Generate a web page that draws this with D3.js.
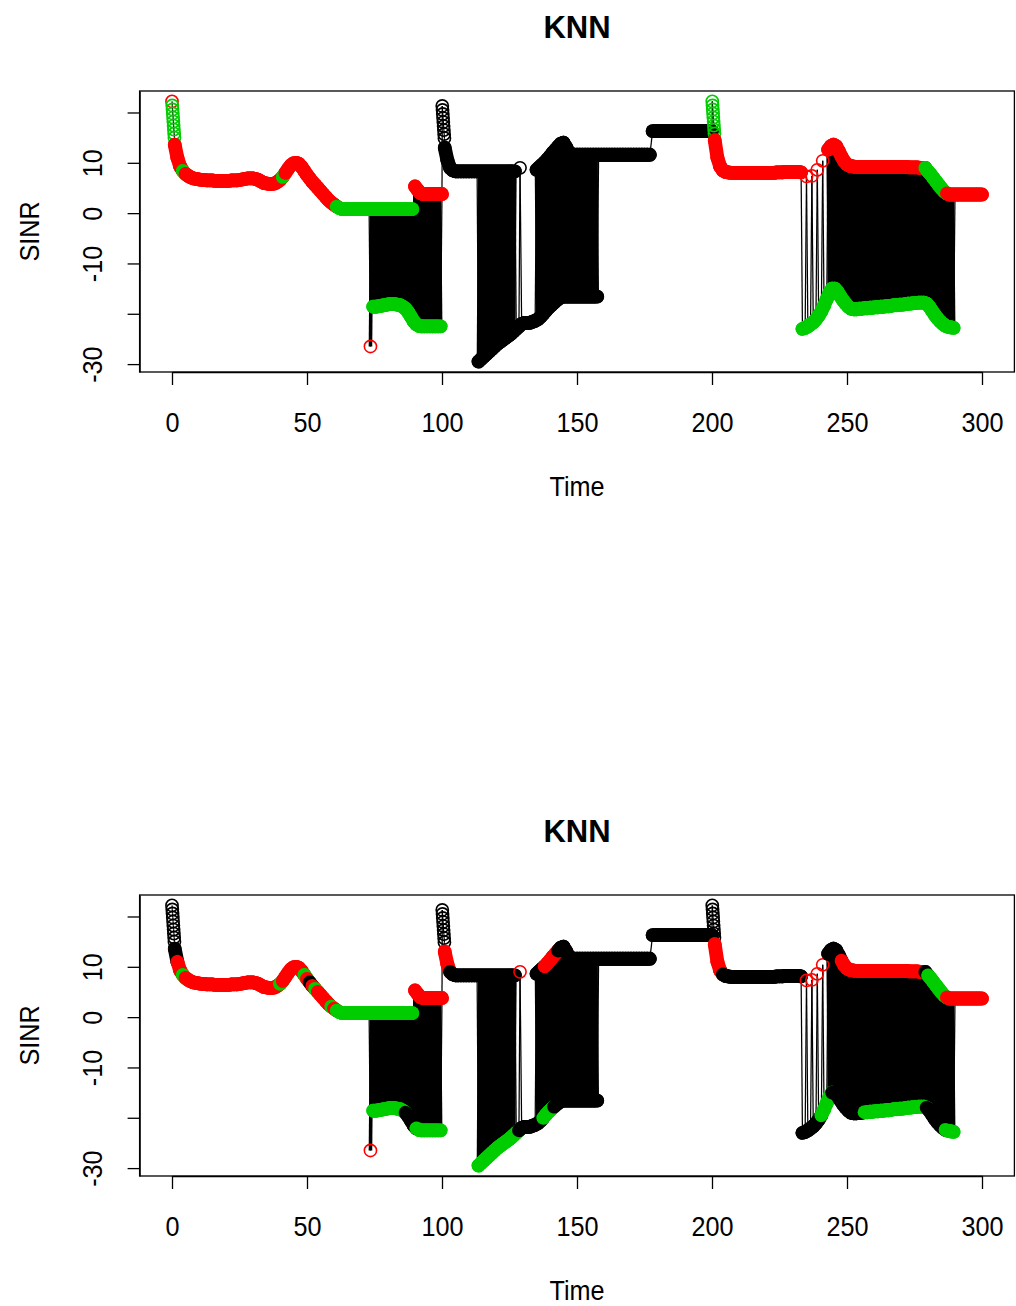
<!DOCTYPE html>
<html><head><meta charset="utf-8">
<script src="https://cdn.jsdelivr.net/npm/d3@7"></script>
<style>
body{margin:0;background:#fff}
svg{display:block}
text{font-family:"Liberation Sans",Arial,Helvetica,sans-serif;fill:#000}
</style>
</head><body>
<svg id="chart" width="1016" height="1306"></svg>
<script>
// ---------------- data ----------------
const chartTitle = "KNN";
const xLabel = "Time";
const yLabel = "SINR";
const xTicks = [0, 50, 100, 150, 200, 250, 300];
const yTicks = [-30, -20, -10, 0, 10, 20];
const yTickLabels = ["-30", "", "-10", "0", "10", ""];

// upper (serving) trace : [time, SINR]
const upperTrace1 = [
  [0,22.2],[0.1,21.4],[0.2,20.6],[0.3,19.8],[0.4,19.0],[0.5,18.2],[0.6,17.4],[0.7,16.6],[0.8,15.8],[0.9,15.0],
  [1,13.6],[2,11.0],[3,9.3],[4,8.4],[5,7.8],[6,7.4],[7,7.1],[8,6.9],[9,6.8],[10,6.7],
  [11,6.6],[12,6.6],[13,6.5],[14,6.5],[15,6.5],[16,6.4],[17,6.4],[18,6.4],[19,6.4],[20,6.4],
  [21,6.4],[22,6.5],[23,6.5],[24,6.5],[25,6.6],[26,6.7],[27,6.8],[28,6.9],[29,6.9],[30,6.9],
  [31,6.8],[32,6.6],[33,6.3],[34,6.0],[35,5.9],[36,5.8],[37,5.8],[38,5.9],[39,6.2],[40,6.6],
  [41,7.2],[42,8.0],[43,8.8],[44,9.5],[45,9.9],[46,10.0],[47,9.8],[48,9.2],[49,8.4],[50,7.6],
  [51,6.9],[52,6.2],[53,5.6],[54,5.0],[55,4.4],[56,3.8],[57,3.2],[58,2.6],[59,2.1],[60,1.7],
  [61,1.3],[62,1.0],[63,0.8],[64,0.8],[65,0.8],[66,0.8],[67,0.8],[68,0.8],[69,0.8],[70,0.8],
  [71,0.8],[72,0.8],[73,0.8],[74,0.8],[75,0.8],[76,0.8],[77,0.8],[78,0.8],[79,0.8],[80,0.8],
  [81,0.8],[82,0.8],[83,0.8],[84,0.8],[85,0.8],[86,0.8],[87,0.8],[88,0.8],[89,0.8],[90,5.3],
  [91,4.6],[92,4.0],[93,3.8],[94,3.8],[95,3.8],[96,3.8],[97,3.8],[98,3.8],[99,3.8],[100,3.8]
];
const upperTrace2 = [
  [100.1,21.3],[100.2,20.5],[100.3,19.7],[100.4,18.9],[100.5,18.1],[100.6,17.3],[100.7,16.5],[100.8,15.7],[100.9,14.9],
  [101,13.0],[102,10.5],[103,9.0],[104,8.5],[105,8.3],[106,8.3],[107,8.3],[108,8.3],[109,8.3],[110,8.3],
  [111,8.3],[112,8.3],[113,8.3],[114,8.3],[115,8.3],[116,8.3],[117,8.3],[118,8.3],[119,8.3],[120,8.3],
  [121,8.3],[122,8.3],[123,8.3],[124,8.3],[125,8.3],[126,8.3],[127,8.3],[128.9,9.0],
  [135,8.6],[136,9.1],[137,9.6],[138,10.1],[139,10.7],[140,11.3],[141,12.0],[142,12.6],[143,13.2],
  [144,13.8],[145,14.0],[146,13.1],[147,12.1],[148,11.7],[149,11.6],[150,11.6],
  [151,11.6],[152,11.6],[153,11.6],[154,11.6],[155,11.6],[156,11.6],[157,11.6],[158,11.6],[159,11.6],[160,11.6],
  [161,11.6],[162,11.6],[163,11.6],[164,11.6],[165,11.6],[166,11.6],[167,11.6],[168,11.6],[169,11.6],[170,11.6],
  [171,11.6],[172,11.6],[173,11.6],[174,11.6],[175,11.6],[176,11.6],[177,11.6],[178,16.3],[179,16.3],[180,16.3],
  [181,16.3],[182,16.3],[183,16.3],[184,16.3],[185,16.3],[186,16.3],[187,16.3],[188,16.3],[189,16.3],[190,16.3],
  [191,16.3],[192,16.3],[193,16.3],[194,16.3],[195,16.3],[196,16.3],[197,16.3],[198,16.3],[199,16.3],[200,16.3]
];
const upperTrace3 = [
  [200.1,22.2],[200.2,21.4],[200.3,20.6],[200.4,19.8],[200.5,19.0],[200.6,18.2],[200.7,17.4],[200.8,16.6],[200.9,15.8],
  [201,14.5],[202,11.0],[203,9.3],[204,8.5],[205,8.2],[206,8.1],[207,8.0],[208,8.0],[209,8.0],[210,8.0],
  [211,8.0],[212,8.0],[213,8.0],[214,8.0],[215,8.0],[216,8.0],[217,8.0],[218,8.0],[219,8.0],[220,8.0],
  [221,8.0],[222,8.0],[223,8.0],[224,8.1],[225,8.1],[226,8.1],[227,8.2],[228,8.2],[229,8.2],[230,8.2],
  [231,8.2],[232,8.2],[233,8.1],[235,7.3],[237,7.4],[239,8.6],[241,10.4],
  [243,12.6],[244,13.3],[245,13.6],[246,13.3],[247,12.3],[248,11.2],[249,10.3],[250,9.7],
  [251,9.4],[252,9.3],[253,9.2],[254,9.2],[255,9.2],[256,9.2],[257,9.2],[258,9.2],[259,9.2],[260,9.2],
  [261,9.2],[262,9.2],[263,9.2],[264,9.2],[265,9.2],[266,9.2],[267,9.2],[268,9.2],[269,9.2],[270,9.2],
  [271,9.2],[272,9.2],[273,9.1],[274,9.1],[275,9.1],[276,9.1],[277,9.0],[278,9.0],[279,9.0],[280,8.3],
  [281,7.7],[282,7.0],[283,6.3],[284,5.6],[285,4.9],[286,4.3],[287,3.9],[288,3.7],[289,3.7],[290,3.7],
  [291,3.7],[292,3.7],[293,3.7],[294,3.7],[295,3.7],[296,3.7],[297,3.7],[298,3.7],[299,3.7],[300,3.7]
];

// lower (ping-pong) trace : [time, SINR]
const lowerTrace1 = [
  [73.5,-26.5],[74.5,-18.6],[75.5,-18.6],[76.5,-18.5],[77.5,-18.4],[78.5,-18.3],[79.5,-18.2],[80.5,-18.1],
  [81.5,-18.1],[82.5,-18.1],[83.5,-18.2],[84.5,-18.3],[85.5,-18.6],[86.5,-19.0],[87.5,-19.7],[88.5,-20.6],
  [89.5,-21.5],[90.5,-22.1],[91.5,-22.4],[92.5,-22.5],[93.5,-22.5],[94.5,-22.5],[95.5,-22.5],[96.5,-22.5],
  [97.5,-22.5],[98.5,-22.5],[99.5,-22.5]
];
const lowerTrace2 = [
  [113.5,-29.5],[114.5,-29.0],[115.5,-28.5],[116.5,-28.0],[117.5,-27.5],[118.5,-27.0],[119.5,-26.5],[120.5,-26.0],
  [121.5,-25.6],[122.5,-25.2],[123.5,-24.8],[124.5,-24.4],[125.5,-24.0],[126.5,-23.5],[127.5,-23.0],[128.5,-22.5],
  [129.5,-22.0],[130.5,-21.8],[131.5,-21.8],[132.5,-21.8],[133.5,-21.6],[134.5,-21.4],[135.5,-21.1],[136.5,-20.6],
  [137.5,-20.0],[138.5,-19.4],[139.5,-18.8],[140.5,-18.3],[141.5,-17.8],[142.5,-17.3],[143.5,-16.9],[144.5,-16.6],
  [145.5,-16.6],[146.5,-16.6],[147.5,-16.6],[148.5,-16.6],[149.5,-16.6],[150.5,-16.6],[151.5,-16.6],[152.5,-16.6],
  [153.5,-16.6],[154.5,-16.6],[155.5,-16.6],[156.5,-16.6],[157.5,-16.6]
];
const lowerTrace3 = [
  [233.5,-23.0],[234.5,-22.8],[235.5,-22.5],[236.5,-22.1],[237.5,-21.7],[238.5,-21.1],[239.5,-20.4],[240.5,-19.5],
  [241.5,-18.4],[242.5,-17.1],[243.5,-15.8],[244.5,-15.0],[245.5,-15.0],[246.5,-15.6],[247.5,-16.5],[248.5,-17.3],
  [249.5,-18.0],[250.5,-18.6],[251.5,-19.0],[252.5,-19.1],[253.5,-19.1],[254.5,-19.0],[255.5,-19.0],[256.5,-18.9],
  [257.5,-18.9],[258.5,-18.8],[259.5,-18.8],[260.5,-18.7],[261.5,-18.7],[262.5,-18.6],[263.5,-18.6],[264.5,-18.5],
  [265.5,-18.5],[266.5,-18.4],[267.5,-18.3],[268.5,-18.3],[269.5,-18.2],[270.5,-18.2],[271.5,-18.1],[272.5,-18.0],
  [273.5,-18.0],[274.5,-17.9],[275.5,-17.9],[276.5,-17.8],[277.5,-17.8],[278.5,-17.8],[279.5,-18.0],[280.5,-18.6],
  [281.5,-19.4],[282.5,-20.2],[283.5,-20.9],[284.5,-21.5],[285.5,-22.0],[286.5,-22.4],[287.5,-22.6],[288.5,-22.7],
  [289.5,-22.8]
];

// point colour classes (R palette index: 1 black, 2 red, 3 green) as [from, to, class]
const panel1UpperClass = [[0,0,2],[0.1,0.9,3],[1,61,2],[5,5,3],[42,42,3],[62,89,3],[90,100,2],
  [100.1,200,1],[200.1,200.9,3],[201,300,2],[280,287,3]];
const panel1LowerClass = [[73.5,73.5,2],[74.5,99.5,3],[113.5,157.5,1],[233.5,289.5,3]];
const panel2UpperClass = [[0,1,1],[2,61,2],[2,2,1],[5,5,3],[41,41,3],[50,50,3],[52,52,1],[54,54,3],[60,60,3],
  [62,89,3],[90,100,2],[100.1,100.9,1],[101,103,2],[104,127,1],[128.9,128.9,2],[135,138,1],[139,143,2],
  [144,200.9,1],[201,204,2],[205,233,1],[235,241,2],[243,248,1],[249,279,2],[280,287,3],[280,280,1],[288,300,2]];
const panel2LowerClass = [[73.5,73.5,2],[74.5,86.5,3],[87.5,90.5,1],[91.5,99.5,3],[113.5,128.5,3],
  [129.5,137.5,1],[138.5,141.5,3],[142.5,157.5,1],[233.5,240.5,1],[241.5,244.5,3],[245.5,256.5,1],
  [257.5,279.5,3],[280.5,286.5,1],[287.5,289.5,3]];

// ---------------- drawing ----------------
const W = 1016, H = 1306;
const svg = d3.select("#chart");
svg.append("rect").attr("width", W).attr("height", H).attr("fill", "#fff");

const palette = d3.scaleOrdinal().domain([1, 2, 3]).range(["#000000", "#ff0000", "#00cd00"]);
const x = d3.scaleLinear().domain([0, 300]).range([172, 982]);
const y = d3.scaleLinear().domain([-31.57, 24.27]).range([372, 91]);
const upperTrace = upperTrace1.concat(upperTrace2, upperTrace3);
const lowerTrace = lowerTrace1.concat(lowerTrace2, lowerTrace3);
const AX_FONT = 28, AX_SQUEEZE = 0.9;

function classAt(runs, t) {
  let c = 1;
  for (const [a, b, k] of runs) if (t >= a - 1e-6 && t <= b + 1e-6) c = k;
  return c;
}

function drawPanel(offsetY, upperRuns, lowerRuns) {
  const g = svg.append("g").attr("transform", `translate(0,${offsetY})`);
  const pts = [];
  upperTrace.forEach(([t, v]) => pts.push({t, v, trace: "u", cls: classAt(upperRuns, t)}));
  lowerTrace.forEach(([t, v]) => pts.push({t, v, trace: "l", cls: classAt(lowerRuns, t)}));
  pts.sort((a, b) => a.t - b.t);

  // connecting lines (drawn first, like R type = "o"); rapid ping-pong segments merge into a solid fill
  const segs = [];
  for (let i = 1; i < pts.length; i++) {
    const a = pts[i - 1], b = pts[i];
    const cross = a.trace !== b.trace;
    const dense = cross && i >= 2 && pts[i - 2].trace !== a.trace &&
      i + 1 < pts.length && pts[i + 1].trace !== b.trace;
    segs.push({a, b, w: dense ? 3.6 : 1.25});
  }
  g.append("g").selectAll("line").data(segs).join("line")
    .attr("x1", d => x(d.a.t)).attr("y1", d => y(d.a.v))
    .attr("x2", d => x(d.b.t)).attr("y2", d => y(d.b.v))
    .attr("stroke", "#000").attr("stroke-width", d => d.w).attr("stroke-linecap", "butt");

  // points
  const marks = g.append("g");
  const last = {};
  const R = 6.1, SW = 1.6;
  pts.forEach(p => {
    const prev = last[p.trace];
    if (prev) {
      const dt = p.t - prev.t;
      if (dt >= 0.5 && dt <= 1.01 && Math.abs(y(p.v) - y(prev.v)) <= 20) {
        marks.append("line")
          .attr("x1", x(prev.t)).attr("y1", y(prev.v))
          .attr("x2", x(p.t)).attr("y2", y(p.v))
          .attr("stroke", palette(p.cls)).attr("stroke-width", 2 * R + SW)
          .attr("stroke-linecap", "round");
      }
    }
    marks.append("circle").attr("cx", x(p.t)).attr("cy", y(p.v)).attr("r", R)
      .attr("fill", "none").attr("stroke", palette(p.cls)).attr("stroke-width", SW);
    last[p.trace] = p;
  });

  // plot box
  g.append("rect").attr("x", x(-12)).attr("y", y.range()[1])
    .attr("width", x(312) - x(-12)).attr("height", y.range()[0] - y.range()[1])
    .attr("fill", "none").attr("stroke", "#000").attr("stroke-width", 1.3);

  // x axis
  const gx = g.append("g").attr("transform", `translate(0,${y.range()[0]})`)
    .call(d3.axisBottom(x).tickValues(xTicks).tickSize(13).tickSizeOuter(0).tickFormat(d3.format("d")));
  gx.attr("font-size", null).attr("font-family", null);
  gx.select(".domain").attr("stroke-width", 1.3);
  gx.selectAll(".tick line").attr("stroke-width", 1.3);
  gx.selectAll(".tick text").attr("y", null).attr("dy", null)
    .attr("transform", `translate(0,60) scale(${AX_SQUEEZE},1)`)
    .attr("font-size", AX_FONT).attr("fill", "#000");

  // y axis
  const gy = g.append("g").attr("transform", `translate(${x(-12)},0)`)
    .call(d3.axisLeft(y).tickValues(yTicks).tickSize(12).tickSizeOuter(0).tickFormat((d, i) => yTickLabels[i]));
  gy.attr("font-size", null).attr("font-family", null);
  gy.select(".domain").attr("stroke-width", 1.3);
  gy.selectAll(".tick line").attr("stroke-width", 1.3);
  gy.selectAll(".tick text").attr("x", null).attr("dy", null)
    .attr("transform", `translate(-38,0) rotate(-90) scale(${AX_SQUEEZE},1)`).attr("text-anchor", "middle")
    .attr("font-size", AX_FONT).attr("fill", "#000");

  // titles
  const cx = (x(-12) + x(312)) / 2;
  g.append("text").attr("x", cx).attr("y", 38).attr("text-anchor", "middle")
    .attr("font-size", 31).attr("font-weight", "bold").text(chartTitle);
  g.append("text").attr("transform", `translate(${cx},496) scale(${AX_SQUEEZE},1)`).attr("text-anchor", "middle")
    .attr("font-size", AX_FONT).text(xLabel);
  g.append("text").attr("transform", `translate(39,${(y.range()[0] + y.range()[1]) / 2}) rotate(-90) scale(${AX_SQUEEZE},1)`)
    .attr("text-anchor", "middle").attr("font-size", AX_FONT).text(yLabel);
}

drawPanel(0, panel1UpperClass, panel1LowerClass);
drawPanel(804, panel2UpperClass, panel2LowerClass);
</script>
</body></html>
